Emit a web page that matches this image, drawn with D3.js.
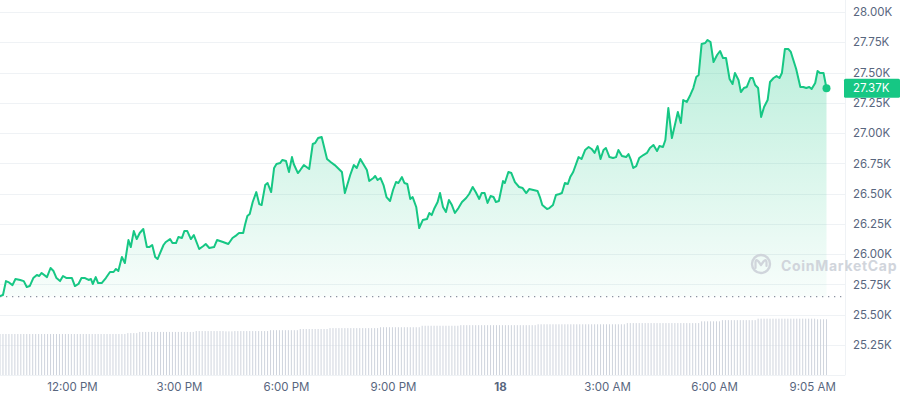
<!DOCTYPE html>
<html><head><meta charset="utf-8">
<script src="https://cdn.jsdelivr.net/npm/d3@7"></script>
<style>body{margin:0;background:#fff;font-family:Inter,sans-serif}</style>
</head><body><svg id="c" width="900" height="400"></svg>
<script>
// minutes after 09:59 AM, 17 Apr
const priceMinutes=[0,5,10,14,21,26,34,40,45,50,56,62,66,70,79,85,90,95,101,106,112,121,126,132,137,143,149,153,156,161,165,171,178,185,191,195,199,205,210,216,220,225,230,235,241,247,251,256,261,265,275,279,286,290,296,300,306,310,315,321,326,335,342,346,352,360,365,375,384,391,398,402,409,412,416,420,425,431,436,440,446,450,456,461,465,471,475,481,486,491,494,501,505,511,520,526,530,535,541,550,556,563,575,580,589,595,600,606,612,617,621,628,631,635,640,645,650,656,661,666,670,676,680,685,690,694,700,705,711,718,722,726,730,736,740,745,750,755,760,765,771,777,784,789,795,800,806,810,815,820,825,830,834,839,846,849,855,860,866,873,879,885,890,897,904,908,912,920,924,930,935,941,945,950,955,959,964,973,978,984,990,995,1000,1005,1010,1015,1019,1025,1031,1036,1040,1046,1053,1057,1061,1065,1070,1075,1082,1088,1093,1099,1105,1109,1115,1119,1124,1130,1135,1140,1145,1149,1155,1161,1166,1171,1175,1180,1186,1190,1195,1200,1206,1211,1216,1221,1227,1232,1236,1242,1246,1251,1256,1262,1266,1270,1275,1280,1285,1291,1295,1301,1306,1311,1315,1320,1326,1330,1339,1346,1351,1356,1361,1365,1371,1375,1379,1385,1390];
const prices=[25655,25663,25778,25770,25745,25795,25787,25778,25729,25737,25803,25828,25820,25845,25811,25886,25861,25803,25778,25820,25803,25803,25737,25754,25803,25803,25787,25795,25754,25811,25762,25762,25803,25853,25853,25878,25861,25977,25927,26117,26059,26191,26125,26175,26208,26059,26059,26076,25977,25960,26076,26101,26125,26092,26092,26142,26134,26191,26191,26125,26158,26043,26068,26084,26051,26059,26117,26101,26084,26134,26158,26175,26175,26241,26315,26332,26431,26513,26414,26406,26571,26588,26513,26712,26745,26753,26778,26769,26679,26802,26745,26670,26695,26736,26703,26910,26918,26959,26968,26786,26761,26736,26679,26505,26654,26736,26712,26786,26736,26695,26604,26629,26646,26613,26629,26571,26472,26439,26530,26596,26588,26637,26588,26580,26456,26472,26390,26216,26282,26290,26340,26323,26373,26431,26505,26390,26348,26447,26406,26340,26381,26431,26464,26497,26555,26513,26456,26505,26505,26423,26480,26472,26431,26439,26604,26588,26679,26670,26596,26555,26546,26505,26538,26530,26522,26472,26406,26373,26381,26406,26489,26497,26505,26588,26580,26637,26679,26802,26786,26860,26885,26869,26836,26893,26786,26860,26877,26802,26794,26802,26860,26811,26802,26827,26778,26712,26728,26794,26819,26836,26877,26902,26852,26893,26885,26943,27207,26959,27067,27174,27083,27273,27257,27315,27372,27463,27480,27736,27744,27769,27752,27587,27645,27678,27620,27620,27447,27405,27496,27438,27339,27372,27381,27455,27455,27397,27372,27133,27215,27273,27422,27455,27471,27455,27496,27694,27694,27670,27529,27381,27381,27372,27381,27364,27414,27513,27496,27496,27370];
// 24h volume (billions), one bar per 5 minutes
const volumes=[
13.9,13.9,13.9,13.9,13.9,13.9,13.9,13.9,13.9,13.9,13.9,13.9,13.9,13.9,13.9,13.9,13.9,13.9,13.9,13.9,13.9,13.9,13.9,13.9,13.9,13.9,13.9,13.9,13.9,13.9,13.9,13.9,13.9,13.9,13.9,13.9,13.9,13.9,13.9,13.9,13.9,13.9,13.9,
14.2,14.2,14.2,14.2,
14.6,14.6,14.6,14.6,14.6,14.6,14.6,14.6,14.6,14.6,14.6,14.6,14.6,14.6,14.6,14.6,14.6,14.6,14.6,
14.9,14.9,14.9,14.9,14.9,14.9,14.9,14.9,14.9,14.9,
14.8,14.8,14.8,
14.9,14.9,14.9,14.9,14.9,14.9,14.9,14.9,14.9,14.9,14.9,14.9,
15.2,15.2,15.2,15.2,15.2,15.2,15.2,15.2,15.2,15.2,
15.6,15.6,15.6,15.6,15.6,15.6,15.6,15.6,15.6,15.6,
15.9,15.9,15.9,15.9,15.9,15.9,15.9,15.9,15.9,15.9,15.9,15.9,15.9,15.9,15.9,15.9,15.9,
16.2,16.2,16.2,16.2,16.2,16.2,16.2,16.2,16.2,16.2,16.2,16.2,16.2,16.2,
16.7,16.7,16.7,16.7,16.7,16.7,16.7,16.7,16.7,16.7,16.7,16.7,16.7,
16.9,16.9,16.9,16.9,16.9,16.9,16.9,16.9,16.9,16.9,16.9,16.9,16.9,16.9,16.9,16.9,16.9,16.9,16.9,16.9,16.9,16.9,16.9,16.9,16.9,16.9,
17.2,17.2,17.2,17.2,17.2,17.2,17.2,17.2,17.2,17.2,17.2,17.2,17.2,17.2,17.2,17.2,17.2,17.2,17.2,17.2,17.2,17.2,17.2,17.2,17.2,17.2,17.2,17.2,17.2,17.2,
17.6,17.6,17.6,17.6,17.6,17.6,17.6,17.6,17.6,17.6,17.6,17.6,17.6,17.6,17.6,17.6,17.6,17.6,17.6,17.6,17.6,17.6,17.6,17.6,17.6,
18.2,18.2,18.2,18.2,18.2,18.2,18.2,
18.6,18.6,18.6,18.6,18.6,18.6,18.6,18.6,18.6,18.6,18.6,18.6,
19.1,19.1,19.1,19.1,19.1,19.1,19.1,19.1,19.1,19.1,19.1,19.1,19.1,19.1,19.1,19.1,19.1,19.1,19.1,19.1,
18.9,18.9,18.9,18.9];
const volStep=5;
const yTicks=[25250,25500,25750,26000,26250,26500,26750,27000,27250,27500,27750,28000];
const xTickMinutes=[121,301,481,661,841,1021,1201,1366];
const xTickLabels=["12:00 PM","3:00 PM","6:00 PM","9:00 PM","18","3:00 AM","6:00 AM","9:05 AM"];
const openPrice=25650;
const lastPriceLabel="27.37K";

const green="#16c784";
const svg=d3.select("#c");
const W=845, B=375.3;
const x=d3.scaleLinear().domain([0,1390]).range([0,826.5]);
const y=d3.scaleLinear().domain([25000,28000]).range([B,12]);
const yv=d3.scaleLinear().domain([0,20]).range([375,316]);

const defs=svg.append("defs");
const g=defs.append("linearGradient").attr("id","ag").attr("gradientUnits","userSpaceOnUse")
  .attr("x1",0).attr("x2",0).attr("y1",y(27800)).attr("y2",y(openPrice));
g.append("stop").attr("offset","0%").attr("stop-color",green).attr("stop-opacity",0.3);
g.append("stop").attr("offset","100%").attr("stop-color",green).attr("stop-opacity",0.03);

// grid
svg.append("g").selectAll("line").data(yTicks.concat([25000])).join("line")
  .attr("x1",0).attr("x2",W).attr("y1",d=>Math.round(y(d))+0.5).attr("y2",d=>Math.round(y(d))+0.5)
  .attr("stroke","#eff2f5");
svg.append("line").attr("x1",W+0.5).attr("x2",W+0.5).attr("y1",0).attr("y2",B).attr("stroke","#eff2f5");

// volume
svg.append("g").selectAll("rect").data(volumes).join("rect")
  .attr("x",(d,i)=>x(i*volStep)-0.5).attr("width",1)
  .attr("y",d=>yv(d)).attr("height",d=>375-yv(d)).attr("fill","#cfd4dd");

const data=priceMinutes.map((m,i)=>({m,p:prices[i]}));
svg.append("path").datum(data)
  .attr("d",d3.area().x(d=>x(d.m)).y0(y(openPrice)).y1(d=>y(d.p)))
  .attr("fill","url(#ag)");

// watermark
const wm=svg.append("g").attr("opacity",0.9);
wm.append("circle").attr("cx",761).attr("cy",264).attr("r",9).attr("fill","none").attr("stroke","#cdd1d9").attr("stroke-width",2.4);
wm.append("path").attr("d","M755.5,268 L755.5,262 Q756,258.5 758.5,261.5 L761,265 L763.5,261.5 Q766,258.5 766.5,262 L766.5,266")
  .attr("fill","none").attr("stroke","#cdd1d9").attr("stroke-width",2.2).attr("stroke-linecap","round").attr("stroke-linejoin","round");
wm.append("text").attr("x",781).attr("y",270.5).attr("font-size",14).attr("font-weight",700)
  .attr("letter-spacing",0.7).attr("fill","#cdd1d9").text("CoinMarketCap");

svg.append("line").attr("x1",0).attr("x2",W).attr("y1",y(openPrice)).attr("y2",y(openPrice))
  .attr("stroke","#8c93a2").attr("stroke-width",1.3).attr("stroke-dasharray","1.3,4.7");

svg.append("path").datum(data)
  .attr("d",d3.line().x(d=>x(d.m)).y(d=>y(d.p)))
  .attr("fill","none").attr("stroke",green).attr("stroke-width",2).attr("stroke-linejoin","round");

const last=data[data.length-1];
svg.append("circle").attr("cx",x(last.m)).attr("cy",y(last.p)).attr("r",4).attr("fill",green);

// axes
const ya=svg.append("g").attr("transform",`translate(${W},0)`)
  .call(d3.axisRight(y).tickValues(yTicks).tickFormat(d=>(d/1000).toFixed(2)+"K").tickSize(0).tickPadding(8));
ya.select(".domain").remove();
ya.selectAll("text").attr("font-family","Inter,sans-serif").attr("font-size",11.5).attr("fill","#58667e");

const xa=svg.append("g").attr("transform",`translate(0,${B})`)
  .call(d3.axisBottom(x).tickValues(xTickMinutes).tickFormat((d,i)=>xTickLabels[i]).tickSize(0).tickPadding(8));
xa.select(".domain").remove();
xa.selectAll("text").attr("font-family","Inter,sans-serif").attr("font-size",11.5).attr("fill","#58667e")
  .attr("font-weight",(d,i)=>xTickLabels[i]==="18"?700:400);

// price label
const ly=y(last.p);
svg.append("rect").attr("x",W-1).attr("y",ly-9.5).attr("width",56).attr("height",19).attr("rx",1.5).attr("fill",green);
svg.append("text").attr("x",W+8).attr("y",ly).attr("dy","0.35em").attr("font-size",11.5)
  .attr("font-family","Inter,sans-serif").attr("fill","#fff").text(lastPriceLabel);
</script></body></html>
